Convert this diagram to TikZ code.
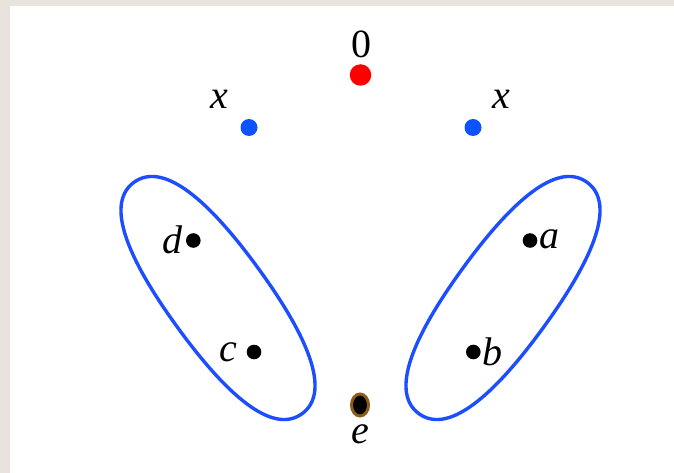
\documentclass[tikz,border=0pt]{standalone}
\usepackage{fontspec}
\setmainfont{Liberation Serif}
\usetikzlibrary{shapes.geometric}
\definecolor{framegray}{RGB}{232,228,221}
\definecolor{loopblue}{RGB}{28,78,255}
\definecolor{dotblue}{RGB}{12,82,255}
\definecolor{ebrown}{RGB}{140,92,24}
\begin{document}
\begin{tikzpicture}[x=1pt,y=-1pt,
  lbl/.style={anchor=base, inner sep=0pt, font=\fontsize{40}{44}\selectfont},
  blackdot/.style={circle, fill=black, inner sep=0pt, minimum size=14.6pt},
  bluedot/.style={circle, fill=dotblue, inner sep=0pt, minimum size=17pt},
  reddot/.style={circle, fill=red, inner sep=0pt, minimum size=21.5pt},
  loopline/.style={draw=loopblue, line width=3.4pt}]
\useasboundingbox (0,0) rectangle (674,473);
\fill[framegray] (0,0) rectangle (674,473);
\fill[white] (10,6) rectangle (674,473);
% dots
\node[reddot] (zero) at (360.5,75) {};
\node[bluedot] (xl) at (249,127.5) {};
\node[bluedot] (xr) at (473,127.5) {};
\node[blackdot] (d) at (193.3,240.5) {};
\node[blackdot] (c) at (254,352) {};
\node[blackdot] (a) at (530,240.5) {};
\node[blackdot] (b) at (473.3,352) {};
\node[ellipse, fill=black, draw=ebrown, line width=3pt, inner sep=0pt,
      minimum width=17pt, minimum height=22pt] (e) at (360,405) {};
% labels
\node[lbl] (lzero) at (361,58) {0};
\node[lbl] (lxl) at (219,109) {\itshape x};
\node[lbl] (lxr) at (501,109) {\itshape x};
\node[lbl] (ld) at (172,253) {\itshape d};
\node[lbl] (lc) at (228,361.5) {\itshape c};
\node[lbl] (la) at (549,248.5) {\itshape a};
\node[lbl] (lb) at (492.5,365) {\itshape b};
\node[lbl] (le) at (360,443) {\itshape e};
% loops
\begin{scope}[shift={(218,298)}, rotate=-54]
\path[loopline] (143,0) .. controls (143,33) and (95,50) .. (0,50)
  .. controls (-95,50) and (-143,33) .. (-143,0)
  .. controls (-143,-33) and (-95,-50) .. (0,-50)
  .. controls (95,-50) and (143,-33) .. (143,0) -- cycle;
\end{scope}
\begin{scope}[shift={(503,298)}, rotate=54]
\path[loopline] (143,0) .. controls (143,33) and (95,50) .. (0,50)
  .. controls (-95,50) and (-143,33) .. (-143,0)
  .. controls (-143,-33) and (-95,-50) .. (0,-50)
  .. controls (95,-50) and (143,-33) .. (143,0) -- cycle;
\end{scope}
\end{tikzpicture}
\end{document}
